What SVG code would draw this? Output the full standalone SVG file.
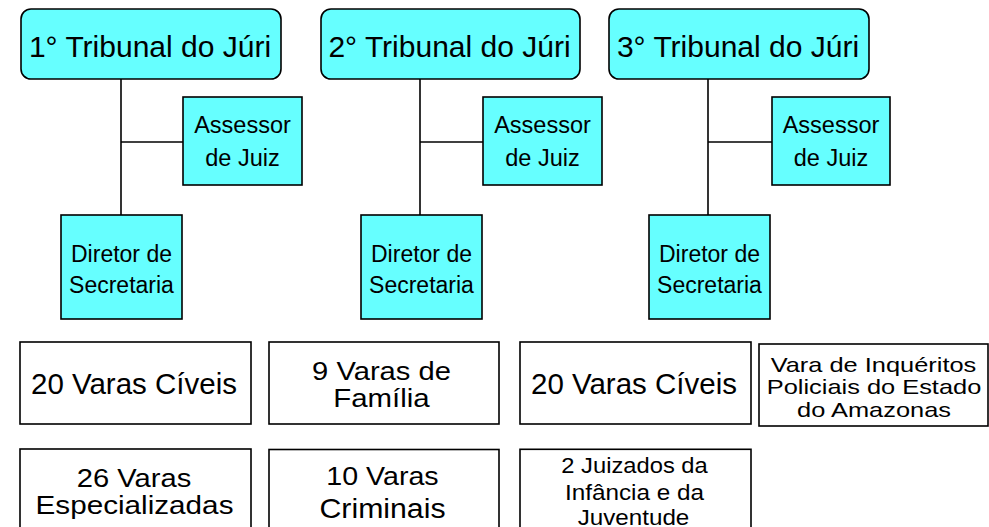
<svg xmlns="http://www.w3.org/2000/svg" width="989" height="527" viewBox="0 0 989 527">
<style>
.top{fill:#66ffff;stroke:#000;stroke-width:1.6}
.cy{fill:#66ffff;stroke:#000;stroke-width:1.6}
.wh{fill:#fff;stroke:#000;stroke-width:1.6}
text{font-family:"Liberation Sans",Arial,sans-serif;fill:#000;text-anchor:middle}
.conn line{stroke:#000;stroke-width:1.6}
</style>
<rect width="989" height="527" fill="#fff"/>
<g class="conn">
<line x1="121" y1="79" x2="121" y2="215"/>
<line x1="121" y1="142" x2="183" y2="142"/>
<line x1="420" y1="79" x2="420" y2="215"/>
<line x1="420" y1="142" x2="483" y2="142"/>
<line x1="708" y1="79" x2="708" y2="215"/>
<line x1="708" y1="142" x2="772" y2="142"/>
</g>
<g id="trib1"><rect class="top" x="21" y="9" width="260" height="70" rx="10"/><text x="150" y="56.5" font-size="30">1° Tribunal do Júri</text></g>
<g id="trib2"><rect class="top" x="321" y="9" width="259" height="70" rx="10"/><text x="449.5" y="56.5" font-size="30">2° Tribunal do Júri</text></g>
<g id="trib3"><rect class="top" x="609" y="9" width="260" height="70" rx="10"/><text x="738" y="56.5" font-size="30">3° Tribunal do Júri</text></g>
<g id="assessor1"><rect class="cy" x="183" y="97" width="119" height="88"/><text x="242.5" y="133.3" font-size="23.5">Assessor</text><text x="242.5" y="165.7" font-size="23.5">de Juiz</text></g>
<g id="assessor2"><rect class="cy" x="483" y="97" width="119" height="88"/><text x="542.5" y="133.3" font-size="23.5">Assessor</text><text x="542.5" y="165.7" font-size="23.5">de Juiz</text></g>
<g id="assessor3"><rect class="cy" x="772" y="97" width="118" height="88"/><text x="831" y="133.3" font-size="23.5">Assessor</text><text x="831" y="165.7" font-size="23.5">de Juiz</text></g>
<g id="diretor1"><rect class="cy" x="61" y="215" width="121" height="104"/><text x="121.5" y="262.3" font-size="23">Diretor de</text><text x="121.5" y="293.3" font-size="23">Secretaria</text></g>
<g id="diretor2"><rect class="cy" x="361" y="215" width="121" height="104"/><text x="421.5" y="262.3" font-size="23">Diretor de</text><text x="421.5" y="293.3" font-size="23">Secretaria</text></g>
<g id="diretor3"><rect class="cy" x="649" y="215" width="121" height="104"/><text x="709.5" y="262.3" font-size="23">Diretor de</text><text x="709.5" y="293.3" font-size="23">Secretaria</text></g>
<g id="civeis1"><rect class="wh" x="20" y="342" width="231" height="82"/><text x="134" y="394" font-size="29.5">20 Varas Cíveis</text></g>
<g id="familia"><rect class="wh" x="269" y="342" width="230" height="82"/>
<text transform="translate(381.5,379.7) scale(1.1,1)" font-size="26.5">9 Varas de</text>
<text transform="translate(381.5,407.3) scale(1.11,1)" font-size="26.5">Família</text></g>
<g id="civeis2"><rect class="wh" x="520" y="342" width="231" height="82"/><text x="634" y="394" font-size="29.5">20 Varas Cíveis</text></g>
<g id="inqueritos"><rect class="wh" x="759" y="344" width="229" height="82"/>
<text transform="translate(873.5,371.5) scale(1.21,1)" font-size="21">Vara de Inquéritos</text>
<text transform="translate(874,393.5) scale(1.21,1)" font-size="21">Policiais do Estado</text>
<text transform="translate(874,416.5) scale(1.21,1)" font-size="21">do Amazonas</text></g>
<g id="especializadas"><rect class="wh" x="20" y="449" width="231" height="90"/>
<text transform="translate(134,486.7) scale(1.1,1)" font-size="26.5">26 Varas</text>
<text transform="translate(134.5,514) scale(1.12,1)" font-size="26.5">Especializadas</text></g>
<g id="criminais"><rect class="wh" x="269" y="449.5" width="230" height="90"/>
<text transform="translate(382.5,484.7) scale(1.1,1)" font-size="26">10 Varas</text>
<text transform="translate(382.5,518) scale(1.1,1)" font-size="27.5">Criminais</text></g>
<g id="juizados"><rect class="wh" x="520" y="449.3" width="231" height="90"/>
<text transform="translate(634.5,472.7) scale(1.06,1)" font-size="22.4">2 Juizados da</text>
<text transform="translate(634.5,500) scale(1.085,1)" font-size="22.4">Infância e da</text>
<text transform="translate(633.5,524.5) scale(1.08,1)" font-size="22.4">Juventude</text></g>
</svg>
